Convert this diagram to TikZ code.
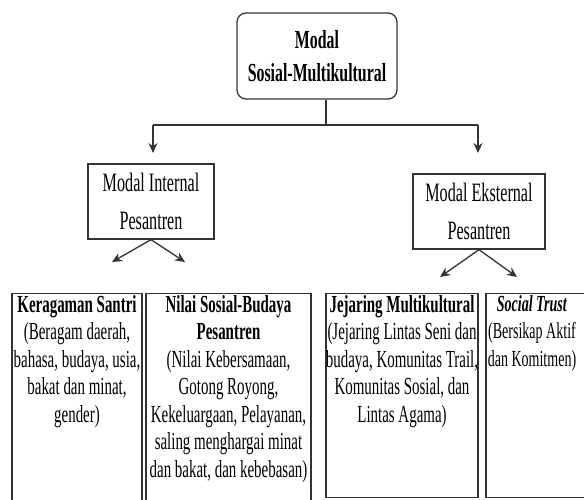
\documentclass[tikz,border=0pt]{standalone}
\usepackage{fontspec}
\setmainfont{Liberation Serif}[FakeStretch=0.61]
\usetikzlibrary{arrows.meta}
\begin{document}
\begin{tikzpicture}[x=1pt, y=1pt,
	kotak/.style={draw=black!80, line width=1.3pt, inner sep=0pt},
	isi/.style={anchor=north, align=center, inner sep=2pt, font=\fontsize{24.5}{27.5}\selectfont},
	panah/.style={draw=black!80, line width=1.3pt, -{Stealth[length=10pt, width=9pt]}}]
			\useasboundingbox (0,0) rectangle (584,499);
			% puncak
			\node[kotak, rounded corners=9pt, minimum width=160pt, minimum height=86pt, align=center, font=\bfseries\fontsize{26}{33}\selectfont] (modal) at (317, 443) {Modal\\Sosial-Multikultural};
			\coordinate (cabang) at (326, 374);
			\coordinate (kiri) at (153, 374);
			\coordinate (kanan) at (478, 374);
			\node[kotak, minimum width=126pt, minimum height=75pt, align=center, font=\fontsize{26.5}{38}\selectfont] (internal) at (151, 297.5) {Modal Internal\\Pesantren};
			\node[kotak, minimum width=132pt, minimum height=75pt, align=center, font=\fontsize{26.5}{38}\selectfont] (eksternal) at (479, 287.5) {Modal Eksternal\\Pesantren};
			\draw[draw=black!80, line width=1.3pt] (modal.south -| cabang) -- (cabang);
			\draw[draw=black!80, line width=1.3pt] (kiri) -- (kanan);
			\draw[panah] (kiri) -- ++(0,-28);
			\draw[panah] (kanan) -- ++(0,-28);
			% ujung panah bawah
			\coordinate (a1) at (112, 237);
			\coordinate (a2) at (185, 237);
			\coordinate (b1) at (440, 222);
			\coordinate (b2) at (517, 222);
			\draw[panah] (internal.south) -- (a1);
			\draw[panah] (internal.south) -- (a2);
			\draw[panah] (eksternal.south) -- (b1);
			\draw[panah] (eksternal.south) -- (b2);
			% kotak bawah
			\node[kotak, anchor=north, minimum width=130pt, minimum height=240pt] (santri) at (77, 206) {};
			\node[kotak, anchor=north, minimum width=165pt, minimum height=240pt] (nilai) at (228.5, 206) {};
			\node[kotak, anchor=north, minimum width=152pt, minimum height=204pt] (jejaring) at (402, 206) {};
			\node[kotak, anchor=north, minimum width=110pt, minimum height=204pt] (trust) at (541, 206) {};
			\node[isi] (santriT) at (santri.north) {\textbf{Keragaman Santri}\\(Beragam daerah,\\bahasa, budaya, usia,\\bakat dan minat,\\gender)};
			\node[isi] (nilaiT) at (nilai.north) {\textbf{Nilai Sosial-Budaya}\\\textbf{Pesantren}\\(Nilai Kebersamaan,\\Gotong Royong,\\Kekeluargaan, Pelayanan,\\saling menghargai minat\\dan bakat, dan kebebasan)};
			\node[isi] (jejaringT) at (jejaring.north) {\textbf{Jejaring Multikultural}\\(Jejaring Lintas Seni dan\\budaya, Komunitas Trail,\\Komunitas Sosial, dan\\Lintas Agama)};
			\node[isi, font=\fontsize{23}{27.5}\selectfont] (trustT) at (trust.north -| 532,0) {\textbf{\textit{Social Trust}}\\(Bersikap Aktif\\dan Komitmen)};
\end{tikzpicture}
\end{document}
